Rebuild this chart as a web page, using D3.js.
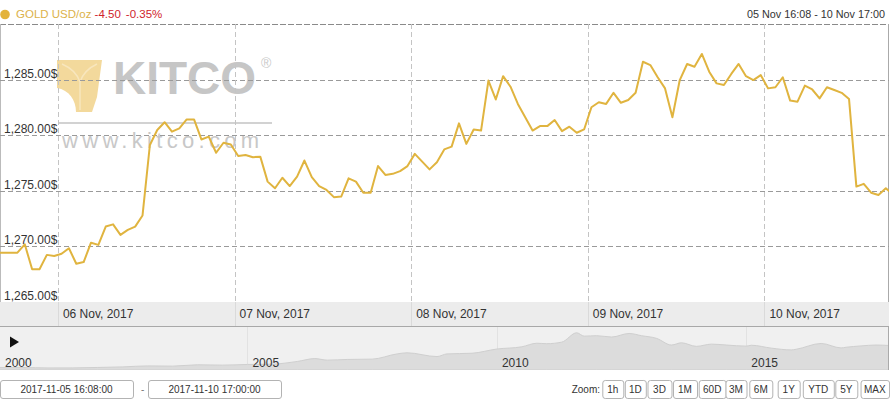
<!DOCTYPE html>
<html><head><meta charset="utf-8">
<script src="https://cdn.jsdelivr.net/npm/d3@7"></script>
<style>body{margin:0;background:#fff;font-family:Arial,"Liberation Sans",sans-serif}</style>
</head><body><svg id="c" width="890" height="400"></svg>
<script>
// ---- data ----
const startTime = "2017-11-05 16:08";
const firstHour = "2017-11-05 16:30";
const endTime = "2017-11-10 17:00";
// first value at startTime, then hourly values from firstHour, last value at endTime
const prices = [1269.4,
 1269.4,1269.4,1269.4,1270.15,1267.9,1267.9,1269.2,1269.1,1269.3,1269.8,
 1268.4,1268.55,1270.3,1270.1,1271.75,1271.95,1271.0,1271.45,1271.75,1272.75,
 1279.1,1280.45,1281.15,1280.3,1280.6,1281.4,1281.4,1279.6,1279.85,1278.4,
 1279.3,1279.15,1278.1,1278.2,1278.0,1278.05,1275.8,1275.2,1276.15,1275.4,
 1276.25,1277.7,1276.2,1275.4,1275.05,1274.4,1274.45,1276.1,1275.8,1274.8,
 1274.8,1277.2,1276.4,1276.5,1276.75,1277.2,1278.3,1277.6,1276.9,1277.55,
 1278.7,1278.95,1281.05,1279.2,1280.5,1280.4,1284.9,1283.2,1285.3,1284.35,
 1282.8,1281.6,1280.4,1280.8,1280.8,1281.35,1280.35,1280.75,1280.2,1280.5,
 1282.5,1282.95,1282.8,1283.8,1282.9,1283.15,1283.8,1286.6,1286.3,1285.2,
 1284.2,1281.6,1284.95,1286.4,1286.15,1287.3,1285.7,1284.65,1284.5,1285.5,
 1286.4,1285.3,1284.95,1285.4,1284.2,1284.3,1285.2,1283.1,1283.0,1284.45,
 1284.1,1283.3,1284.3,1284.05,1283.8,1283.25,1275.35,1275.6,1274.8,1274.6,
 1275.2,
 1274.9];
const yTicks = [1265, 1270, 1275, 1280, 1285];
const yDomain = [1265, 1290];
const dayTicks = ["2017-11-06", "2017-11-07", "2017-11-08", "2017-11-09", "2017-11-10"];
const navYears  = [2000,2000.5,2001,2001.5,2002,2002.5,2003,2003.5,2004,2004.5,2005,2005.5,2006,2006.35,2006.6,2007,2007.5,2008,2008.2,2008.8,2009,2009.5,2010,2010.5,2010.8,2011,2011.3,2011.6,2011.75,2012,2012.3,2012.65,2012.9,2013.2,2013.5,2013.7,2014,2014.3,2014.6,2015,2015.1,2015.5,2015.9,2016,2016.5,2016.9,2017,2017.3,2017.6,2017.86];
const navPrices = [285,285,268,270,290,315,360,350,410,395,425,440,560,690,620,650,665,900,950,780,900,930,1120,1220,1380,1360,1430,1850,1700,1720,1660,1820,1720,1600,1300,1400,1240,1340,1300,1250,1290,1160,1080,1110,1370,1170,1200,1260,1300,1280];
const navTickYears = [2000, 2005, 2010, 2015];
const zoomButtons = ["1h","1D","3D","1M","60D","3M","6M","1Y","YTD","5Y","MAX"];
const rangeFrom = "2017-11-05 16:08:00", rangeTo = "2017-11-10 17:00:00";
const headerName = "GOLD USD/oz", headerChange = "-4.50", headerPct = "-0.35%";
const headerRange = "05 Nov 16:08 - 10 Nov 17:00";

// ---- build ----
const parse = d3.timeParse("%Y-%m-%d %H:%M");
const times = [parse(startTime)];
for (let k = 0; k < prices.length - 2; k++) times.push(d3.timeHour.offset(parse(firstHour), k));
times.push(parse(endTime));
const data = prices.map((p, i) => ({t: times[i], p}));

const svg = d3.select("#c");
const plot = {x0: 0, x1: 889.5, y0: 24, y1: 301.5};
const x = d3.scaleTime().domain([parse(startTime), parse(endTime)]).range([plot.x0, plot.x1]);
const y = d3.scaleLinear().domain(yDomain).range([plot.y1, plot.y0]);
const FONT = "Arial, 'Liberation Sans', sans-serif";

// header
svg.append("circle").attr("cx", 5).attr("cy", 14.5).attr("r", 4.8).attr("fill", "#e3b33c");
const ht = svg.append("text").attr("x", 16).attr("y", 18).attr("font-size", 11.5).attr("font-family", FONT);
ht.append("tspan").attr("fill", "#dcb24a").text(headerName + " ");
ht.append("tspan").attr("fill", "#d0232b").text(headerChange);
ht.append("tspan").attr("fill", "#d0232b").attr("dx", 5).text(headerPct);
svg.append("text").attr("x", 885).attr("y", 17.5).attr("text-anchor", "end")
  .attr("font-size", 10.8).attr("font-family", FONT).attr("fill", "#333").text(headerRange);

// watermark
const wm = svg.append("g");
wm.append("path").attr("d", "M57,60 L102,60 L97,97 L92,112 L76,112 C76,100 69,90 57,88 Z").attr("fill", "#f3d99c");
wm.append("path").attr("d", "M62,64 Q76,70 80,82 L80,110 M97,64 Q84,70 80,82").attr("fill", "none").attr("stroke", "#f8e6bd").attr("stroke-width", 1.5);
wm.append("text").attr("x", 113).attr("y", 94).attr("font-size", 46).attr("font-weight", "bold").attr("font-family", FONT)
  .attr("fill", "#c6c6c6").text("KITCO");
wm.append("text").attr("x", 261).attr("y", 68).attr("font-size", 14).attr("font-family", FONT)
  .attr("fill", "#c9c9c9").text("®");
wm.append("line").attr("x1", 58).attr("x2", 272).attr("y1", 123).attr("y2", 123).attr("stroke", "#d2d2d2").attr("stroke-width", 2);
wm.append("text").attr("x", 62).attr("y", 148).attr("font-size", 22).attr("letter-spacing", 4.3)
  .attr("font-family", FONT).attr("fill", "#c8c8c8").text("www.kitco.com");

// frame
svg.append("line").attr("x1", 0).attr("x2", 889).attr("y1", 24.5).attr("y2", 24.5).attr("stroke", "#8a8a8a").attr("stroke-dasharray", "6,2");
svg.append("line").attr("x1", 0.5).attr("x2", 0.5).attr("y1", 24).attr("y2", 302).attr("stroke", "#bbb");
svg.append("line").attr("x1", 888.5).attr("x2", 888.5).attr("y1", 24).attr("y2", 370).attr("stroke", "#aaa");

// y grid + labels
yTicks.forEach(v => {
  const yy = Math.round(y(v)) + 0.5;
  if (v !== yDomain[0]) svg.append("line").attr("x1", 0).attr("x2", 889).attr("y1", yy).attr("y2", yy)
    .attr("stroke", "#9a9a9a").attr("stroke-dasharray", "5,3");
  svg.append("text").attr("x", 4).attr("y", y(v) - 2).attr("font-size", 12).attr("font-family", FONT)
    .attr("fill", "#333").text(d3.format(",.2f")(v) + "$");
});

// x band
svg.append("rect").attr("x", 0).attr("y", 302).attr("width", 889).attr("height", 24).attr("fill", "#ececec");
svg.append("line").attr("x1", 0).attr("x2", 889).attr("y1", 326.5).attr("y2", 326.5).attr("stroke", "#a8a8a8");
const dayFmt = d3.timeFormat("%d %b, %Y");
dayTicks.forEach(d => {
  const dt = d3.timeParse("%Y-%m-%d")(d);
  const xx = Math.round(x(dt)) + 0.5;
  svg.append("line").attr("x1", xx).attr("x2", xx).attr("y1", 24).attr("y2", 302)
    .attr("stroke", "#c4c4c4").attr("stroke-dasharray", "5,3");
  svg.append("line").attr("x1", xx).attr("x2", xx).attr("y1", 302).attr("y2", 326)
    .attr("stroke", "#dadada");
  svg.append("text").attr("x", x(dt) + 5).attr("y", 318.3).attr("font-size", 12).attr("font-family", FONT)
    .attr("fill", "#333").text(dayFmt(dt));
});

// price line
svg.append("clipPath").attr("id", "pc").append("rect").attr("x", 0).attr("y", 24).attr("width", 889).attr("height", 278);
svg.append("path").datum(data).attr("clip-path", "url(#pc)")
  .attr("d", d3.line().x(d => x(d.t)).y(d => y(d.p)))
  .attr("fill", "none").attr("stroke", "#e0b43f").attr("stroke-width", 2).attr("stroke-linejoin", "round");

// navigator
const nav = {y0: 327, y1: 370};
svg.append("rect").attr("x", 0).attr("y", nav.y0).attr("width", 888).attr("height", nav.y1 - nav.y0).attr("fill", "#f0f0f0");
const nx = d3.scaleLinear().domain([2000, 2017.86]).range([-2, 889]);
const ny = d3.scaleLinear().domain([0, 1900]).range([373.9, 331.7]);
const navData = navYears.map((yr, i) => ({yr, p: navPrices[i]}));
svg.append("clipPath").attr("id", "nc").append("rect").attr("x", 0).attr("y", nav.y0).attr("width", 888).attr("height", nav.y1 - nav.y0);
navTickYears.forEach(yr => {
  svg.append("line").attr("x1", Math.round(nx(yr)) + 0.5).attr("x2", Math.round(nx(yr)) + 0.5)
    .attr("y1", nav.y0).attr("y2", nav.y1).attr("stroke", "#e2e2e2");
});
svg.append("path").datum(navData).attr("clip-path", "url(#nc)")
  .attr("d", d3.area().x(d => nx(d.yr)).y0(nav.y1).y1(d => ny(d.p)).curve(d3.curveMonotoneX))
  .attr("fill", "#dcdcdc").attr("stroke", "#cfcfcf").attr("stroke-width", 1);
navTickYears.forEach(yr => {
  svg.append("text").attr("x", Math.max(nx(yr) + 5, 5)).attr("y", 367).attr("font-size", 12).attr("font-family", FONT)
    .attr("fill", "#333").text(yr);
});
svg.append("path").attr("d", "M10,336.5 L19,342 L10,347.5 Z").attr("fill", "#111");

// range inputs
function box(x0, x1, label) {
  svg.append("rect").attr("x", x0 + 0.5).attr("y", 380.5).attr("width", x1 - x0).attr("height", 18).attr("rx", 2.5)
    .attr("fill", "#fff").attr("stroke", "#b3b3b3");
  svg.append("text").attr("x", (x0 + x1) / 2).attr("y", 393).attr("text-anchor", "middle")
    .attr("font-size", 10).attr("font-family", FONT).attr("fill", "#333").text(label);
}
box(0, 133, rangeFrom);
svg.append("text").attr("x", 141).attr("y", 393).attr("font-size", 10).attr("font-family", FONT).attr("fill", "#777").text("-");
box(148, 281, rangeTo);

svg.append("text").attr("x", 600).attr("y", 393).attr("text-anchor", "end").attr("font-size", 10)
  .attr("font-family", FONT).attr("fill", "#333").text("Zoom:");
const btnCenters = [612.8, 635.3, 659.5, 685, 712.2, 736, 760.8, 788.7, 818.3, 846.3, 874.8];
const btnWidths = [21, 21, 24, 24, 27, 21, 23, 22, 31, 22, 28.5];
zoomButtons.forEach((b, i) => box(btnCenters[i] - btnWidths[i] / 2, btnCenters[i] + btnWidths[i] / 2, b));
</script></body></html>
